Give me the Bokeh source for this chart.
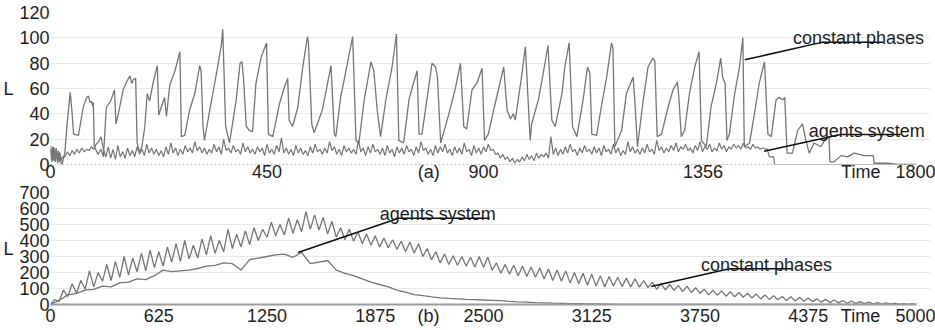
from bokeh.plotting import figure
from bokeh.layouts import column
from bokeh.models import FixedTicker, Label, Range1d
from bokeh.embed import file_html
from bokeh.resources import INLINE

FONT = "Liberation Sans"
TXT = "#1e1e1e"
LINE = "#767676"

# ---------------- panel (a) data ----------------
a_x_ticks = [0, 450, 900, 1356, 1800]
a_y_ticks = [0, 20, 40, 60, 80, 100, 120]
a_extra_labels = {786: "(a)", 1684: "Time"}

# constant phases (vertices)
a_cp_t = [0, 3, 6, 9, 12, 15, 18, 21, 24, 30, 34, 41, 45, 48, 58, 68, 75, 79, 82, 85, 88, 89, 91, 99, 105, 110,
          116, 125, 133, 136, 141, 151, 158, 165, 169, 172, 177, 180, 185, 190, 196, 201, 206, 213, 222, 225,
          231, 237, 241, 248, 258, 269, 272, 279, 289, 300, 310, 313, 317, 320, 331, 345, 355, 358, 364, 372,
          386, 394, 398, 401, 407, 413, 420, 427, 438, 449, 453, 462, 476, 486, 493, 496, 503, 514, 524, 534,
          536, 543, 548, 565, 583, 590, 593, 603, 614, 628, 635, 641, 652, 666, 672, 679, 686, 697, 710, 719,
          724, 734, 745, 752, 762, 766, 772, 783, 793, 800, 804, 811, 828, 842, 852, 859, 865, 876, 886, 897,
          902, 910, 921, 931, 942, 949, 956, 962, 966, 980, 987, 997, 1000, 1014, 1025, 1034, 1042, 1049, 1063,
          1069, 1078, 1085, 1094, 1107, 1116, 1121, 1125, 1135, 1145, 1156, 1166, 1169, 1173, 1187, 1197, 1211,
          1214, 1220, 1232, 1242, 1252, 1256, 1261, 1270, 1284, 1294, 1303, 1306, 1311, 1318, 1328, 1339, 1348,
          1353, 1363, 1373, 1384, 1393, 1397, 1402, 1406, 1411, 1422, 1432, 1439, 1442, 1453, 1463, 1473, 1484,
          1491, 1498, 1508, 1515, 1522, 1526, 1531, 1542, 1553, 1563, 1570, 1577, 1587, 1601, 1609, 1618, 1620,
          1628, 1643, 1657, 1670, 1691, 1710, 1712, 1740, 1760, 1800]
a_cp_v = [12, 2, 14, 3, 13, 1, 10, 2, 0, 10, 30, 57, 40, 24, 23, 45, 53, 54, 49, 50, 46, 49, 14, 8, 12, 6,
          45, 50, 59, 32, 40, 59, 65, 70, 64, 67, 68, 17, 10, 14, 30, 56, 50, 64, 78, 39,
          46, 53, 38, 63, 73, 89, 22, 23, 43, 56, 78, 74, 30, 19, 43, 72, 94, 107, 30, 17,
          51, 80, 81, 69, 30, 27, 26, 64, 85, 96, 24, 22, 48, 61, 68, 35, 30, 45, 76, 101,
          97, 32, 25, 43, 78, 24, 22, 53, 74, 101, 19, 17, 51, 81, 74, 43, 22, 51, 77, 103,
          19, 17, 51, 61, 74, 24, 24, 53, 80, 77, 70, 17, 40, 61, 80, 30, 28, 59, 64, 76,
          19, 24, 43, 59, 77, 43, 36, 40, 35, 72, 93, 19, 32, 51, 74, 94, 35, 30, 56,
          77, 96, 30, 22, 51, 77, 72, 24, 23, 46, 69, 96, 92, 14, 27, 56, 69,
          53, 14, 51, 77, 84, 82, 22, 24, 46, 59, 65, 53, 22, 27, 56, 77, 89,
          19, 14, 46, 64, 84, 69, 64, 19, 24, 56, 77, 100, 14, 17, 40, 64, 81,
          24, 22, 51, 53, 51, 53, 9, 9, 27, 32, 19, 9, 17, 14, 19, 22, 2,
          2, 7, 6, 9, 7, 7, 1, 1, 0, 0]

# agents system: start, regular samples every 5 time units from 30 to 1480, tail
a_ag_head_t = [0, 2, 4, 6, 8, 10, 12, 14, 16, 18, 20, 22, 25]
a_ag_head_v = [15, 4, 14, 3, 13, 2, 12, 3, 11, 2, 9, 3, 6]
a_ag_mid_v = [
    6, 10, 7, 11, 8, 12, 9, 13, 10, 12, 11, 14, 12, 16, 18, 22, 12, 6, 14, 5,
    12, 4, 15, 6, 10, 5, 13, 7, 11, 6, 14, 8, 12, 7, 16, 9, 13, 8, 12, 7,
    11, 6, 14, 8, 17, 9, 13, 7, 12, 8, 15, 10, 13, 9, 18, 11, 14, 9, 13, 8,
    12, 9, 16, 10, 14, 8, 20, 11, 13, 9, 15, 10, 12, 8, 17, 10, 14, 9, 12, 8,
    14, 10, 13, 7, 16, 9, 12, 8, 15, 10, 21, 9, 13, 8, 12, 7, 15, 9, 13, 8,
    11, 7, 14, 9, 16, 10, 12, 8, 13, 9, 18, 11, 14, 8, 12, 7, 15, 10, 13, 9,
    12, 8, 19, 10, 13, 7, 14, 9, 16, 10, 12, 8, 13, 7, 15, 9, 12, 6, 14, 9,
    13, 8, 15, 10, 12, 7, 14, 9, 18, 11, 13, 8, 12, 7, 15, 9, 14, 10, 16, 9,
    12, 7, 14, 9, 13, 8, 17, 10, 12, 7, 15, 9, 13, 8, 14, 10, 16, 11, 12, 8,
    9, 5, 8, 4, 6, 2, 5, 1, 4, 2, 6, 3, 8, 4, 7, 3, 9, 5, 8, 6,
    9, 5, 22, 8, 13, 7, 12, 8, 14, 9, 16, 10, 12, 7, 13, 9, 15, 10, 12, 8,
    14, 9, 13, 7, 15, 10, 12, 8, 16, 9, 13, 7, 11, 8, 18, 10, 14, 9, 12, 8,
    13, 9, 16, 10, 12, 8, 19, 11, 14, 9, 13, 10, 15, 11, 17, 10, 14, 12, 16, 11,
    13, 9, 15, 11, 18, 10, 14, 12, 16, 10, 13, 11, 17, 12, 15, 10, 14, 12, 16, 13,
    15, 12, 17, 13, 14, 12, 16, 13, 14, 12, 13]
a_ag_tail_t = [1490, 1494, 1503, 1505, 1800]
a_ag_tail_v = [12, 6, 6, 0, 0]

# ---------------- panel (b) data ----------------
b_x_ticks = [0, 625, 1250, 1875, 2500, 3125, 3750, 4375, 5000]
b_y_ticks = [0, 100, 200, 300, 400, 500, 600, 700]
b_extra_labels = {2183: "(b)", 4677: "Time"}

# constant phases: troughs at t = 0, 50, ..., 5000 and peaks at t = 25, 75, ..., 4975
b_cp_troughs = [0, 20, 50, 70, 95, 110, 145, 150, 170, 185, 205, 210, 230, 240, 265, 270, 285, 290, 310, 320,
                330, 350, 360, 375, 400, 420, 430, 435, 445, 455, 470, 465, 440, 420, 405, 395, 380, 370, 360, 355,
                345, 330, 320, 300, 280, 260, 250, 245, 240, 235, 232, 215, 195, 190, 180, 175, 170, 160, 150, 145,
                135, 130, 120, 115, 110, 115, 112, 110, 108, 105, 95, 92, 88, 80, 75, 70, 60, 58, 52, 48,
                45, 40, 35, 32, 30, 25, 22, 20, 18, 15, 12, 10, 8, 6, 5, 4, 3, 2, 1, 1, 0]
b_cp_peaks = [30, 90, 130, 150, 210, 200, 250, 270, 300, 290, 320, 340, 330, 360, 380, 400, 370, 410, 430, 400,
              470, 440, 460, 480, 470, 515, 500, 540, 530, 580, 560, 545, 520, 480, 470, 455, 440, 430, 415, 405,
              395, 390, 380, 350, 330, 315, 305, 300, 295, 300, 295, 260, 250, 245, 240, 235, 228, 222, 215, 210,
              200, 195, 190, 180, 175, 170, 165, 160, 150, 140, 130, 125, 120, 115, 105, 95, 90, 85, 80, 75,
              70, 65, 60, 55, 50, 48, 45, 40, 35, 32, 28, 25, 22, 18, 15, 12, 10, 8, 5, 3]

# agents system: samples every 50 time units
b_ag_v = [0, 25, 60, 70, 90, 95, 115, 110, 135, 140, 160, 155, 180, 215, 205, 210, 215, 225, 240, 245,
          260, 255, 215, 280, 290, 300, 310, 315, 295, 325, 255, 265, 275, 215, 195, 180, 160, 140, 125, 110,
          90, 78, 62, 55, 48, 42, 38, 35, 32, 30, 28, 26, 24, 20, 17, 15, 12, 10, 8, 7,
          6, 5, 4, 3, 2, 2, 1, 1, 1, 0, 0, 0, 0, 0, 0, 0, 0, 0, 0, 0,
          0, 0, 0, 0, 0, 0, 0, 0, 0, 0, 0, 0, 0, 0, 0, 0, 0, 0, 0, 0, 0]

# annotation anchors (leader line: data point -> underline) and note text positions
a_cp_note_t, a_cp_note_v = [1443, 1605, 1731], [82.7, 96.6, 96.6]
a_ag_note_t, a_ag_note_v = [1483, 1642, 1767], [10.5, 23.7, 23.7]
b_ag_note_t, b_ag_note_v = [1429, 2010, 2535], [325, 539, 539]
b_cp_note_t, b_cp_note_v = [3468, 3919, 4284], [112.5, 223, 223]

# ---------------- build series ----------------
a_ag_t = a_ag_head_t + [30 + 5 * i for i in range(len(a_ag_mid_v))] + a_ag_tail_t
a_ag_v = a_ag_head_v + a_ag_mid_v + a_ag_tail_v

b_cp_t, b_cp_v = [], []
for i, tr in enumerate(b_cp_troughs):
    b_cp_t.append(50 * i)
    b_cp_v.append(tr)
    if i < len(b_cp_peaks):
        b_cp_t.append(50 * i + 25)
        b_cp_v.append(b_cp_peaks[i])
b_ag_t = [50 * i for i in range(len(b_ag_v))]


def style(p, xticks, yticks, extra, xmax):
    p.outline_line_color = None
    p.xgrid.grid_line_color = None
    p.ygrid.grid_line_color = "#e9e9e9"
    p.ygrid.grid_line_width = 1
    p.ygrid.bounds = (0, xmax)
    p.xaxis.bounds = (0, xmax)
    p.xaxis.ticker = FixedTicker(ticks=sorted(xticks + list(extra.keys())))
    p.xaxis.major_label_overrides = extra
    p.yaxis.ticker = FixedTicker(ticks=yticks)
    for ax in (p.xaxis, p.yaxis):
        ax.major_tick_line_color = None
        ax.minor_tick_line_color = None
        ax.major_tick_out = 0
        ax.major_tick_in = 0
        ax.minor_tick_out = 0
        ax.minor_tick_in = 0
        ax.major_label_text_font = FONT
        ax.major_label_text_font_size = "18px"
        ax.major_label_text_color = TXT
    p.yaxis.axis_line_color = None
    p.yaxis.major_label_standoff = 1
    p.xaxis.major_label_standoff = 1
    p.yaxis.axis_label = "L"
    p.yaxis.axis_label_text_font = FONT
    p.yaxis.axis_label_text_font_size = "18px"
    p.yaxis.axis_label_text_font_style = "normal"
    p.yaxis.axis_label_text_color = TXT
    p.yaxis.axis_label_standoff = 3
    try:
        p.yaxis.axis_label_orientation = "horizontal"
    except Exception:
        pass


def text(p, x, y, s):
    p.add_layout(Label(x=x, y=y, text=s, text_font=FONT, text_font_size="18px",
                       text_color=TXT, text_align="left", text_baseline="alphabetic"))


W = 935
pa = figure(width=W, height=184, x_range=Range1d(0, 1829), y_range=Range1d(0, 120),
            output_backend="svg", toolbar_location=None,
            min_border_left=48, min_border_right=5, min_border_top=12, min_border_bottom=20)
style(pa, a_x_ticks, a_y_ticks, a_extra_labels, 1800)
pa.xaxis.major_label_standoff = -3
pa.xaxis.axis_line_color = "#bdbdbd"
pa.xaxis.axis_line_dash = "2 2"
pa.line(a_ag_t, a_ag_v, line_color=LINE, line_width=1.2)
pa.line(a_cp_t, a_cp_v, line_color=LINE, line_width=1.3)
pa.line(a_cp_note_t, a_cp_note_v, line_color="#111111", line_width=1.5)
pa.line(a_ag_note_t, a_ag_note_v, line_color="#111111", line_width=1.5)
text(pa, 1543, 99.9, "constant phases")
text(pa, 1576, 26.8, "agents system")

pb = figure(width=W, height=146, x_range=Range1d(0, 5081), y_range=Range1d(0, 700),
            output_backend="svg", toolbar_location=None,
            min_border_left=48, min_border_right=5, min_border_top=8, min_border_bottom=26)
style(pb, b_x_ticks, b_y_ticks, b_extra_labels, 5000)
pb.xaxis.axis_line_color = "#9a9a9a"
pb.xaxis.axis_line_width = 2
pb.line(b_ag_t, b_ag_v, line_color=LINE, line_width=1.3)
pb.line(b_cp_t, b_cp_v, line_color=LINE, line_width=1.3)
pb.line(b_ag_note_t, b_ag_note_v, line_color="#111111", line_width=1.5)
pb.line(b_cp_note_t, b_cp_note_v, line_color="#111111", line_width=1.5)
text(pb, 1901, 565, "agents system")
text(pb, 3756, 247, "constant phases")

layout = column(pa, pb, spacing=0)
open("out.html", "w").write(file_html(layout, INLINE))
